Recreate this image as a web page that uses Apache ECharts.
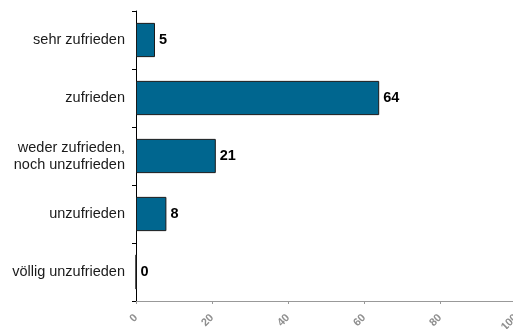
<!DOCTYPE html>
<html><head><meta charset="utf-8">
<script src="https://cdn.jsdelivr.net/npm/echarts@6/dist/echarts.min.js"></script>
<style>html,body{margin:0;padding:0;background:#fff}#c{width:513px;height:329px}</style>
</head><body><div id="c"></div>
<script>
const categories = ["sehr zufrieden", "zufrieden", "weder zufrieden,\nnoch unzufrieden", "unzufrieden", "völlig unzufrieden"];
const values = [5, 64, 21, 8, 0];
const xTicks = [0, 20, 40, 60, 80, 100];

const chart = echarts.init(document.getElementById('c'), null, {renderer: 'canvas'});
chart.setOption({
  animation: false,
  grid: {left: 136, top: 11, bottom: 28, right: -3, containLabel: false, outerBoundsMode: 'none'},
  xAxis: {
    type: 'value', min: xTicks[0], max: xTicks[xTicks.length - 1], interval: 20,
    splitLine: {show: false},
    axisLine: {show: true, lineStyle: {color: '#999', width: 1}},
    axisTick: {show: true, length: 3, lineStyle: {color: '#999'}},
    axisLabel: {rotate: 45, color: '#8f8f8f', fontSize: 11, fontWeight: 'bold', fontFamily: 'Liberation Sans', margin: 15}
  },
  yAxis: {
    type: 'category', data: categories, inverse: true,
    axisLine: {show: true, lineStyle: {color: '#000', width: 1}},
    axisTick: {show: true, length: 4, lineStyle: {color: '#000'}},
    axisLabel: {color: '#1a1a1a', fontSize: 14.5, fontFamily: 'Liberation Sans', margin: 11, lineHeight: 17, align: 'right'}
  },
  series: [{
    type: 'bar', data: values, barCategoryGap: '41%',
    itemStyle: {color: '#00668F', borderColor: '#1a1a1a', borderWidth: 1},
    label: {show: true, position: 'right', distance: 4, color: '#000', fontSize: 14.5, fontWeight: 'bold', fontFamily: 'Liberation Sans'}
  }]
});
</script></body></html>
